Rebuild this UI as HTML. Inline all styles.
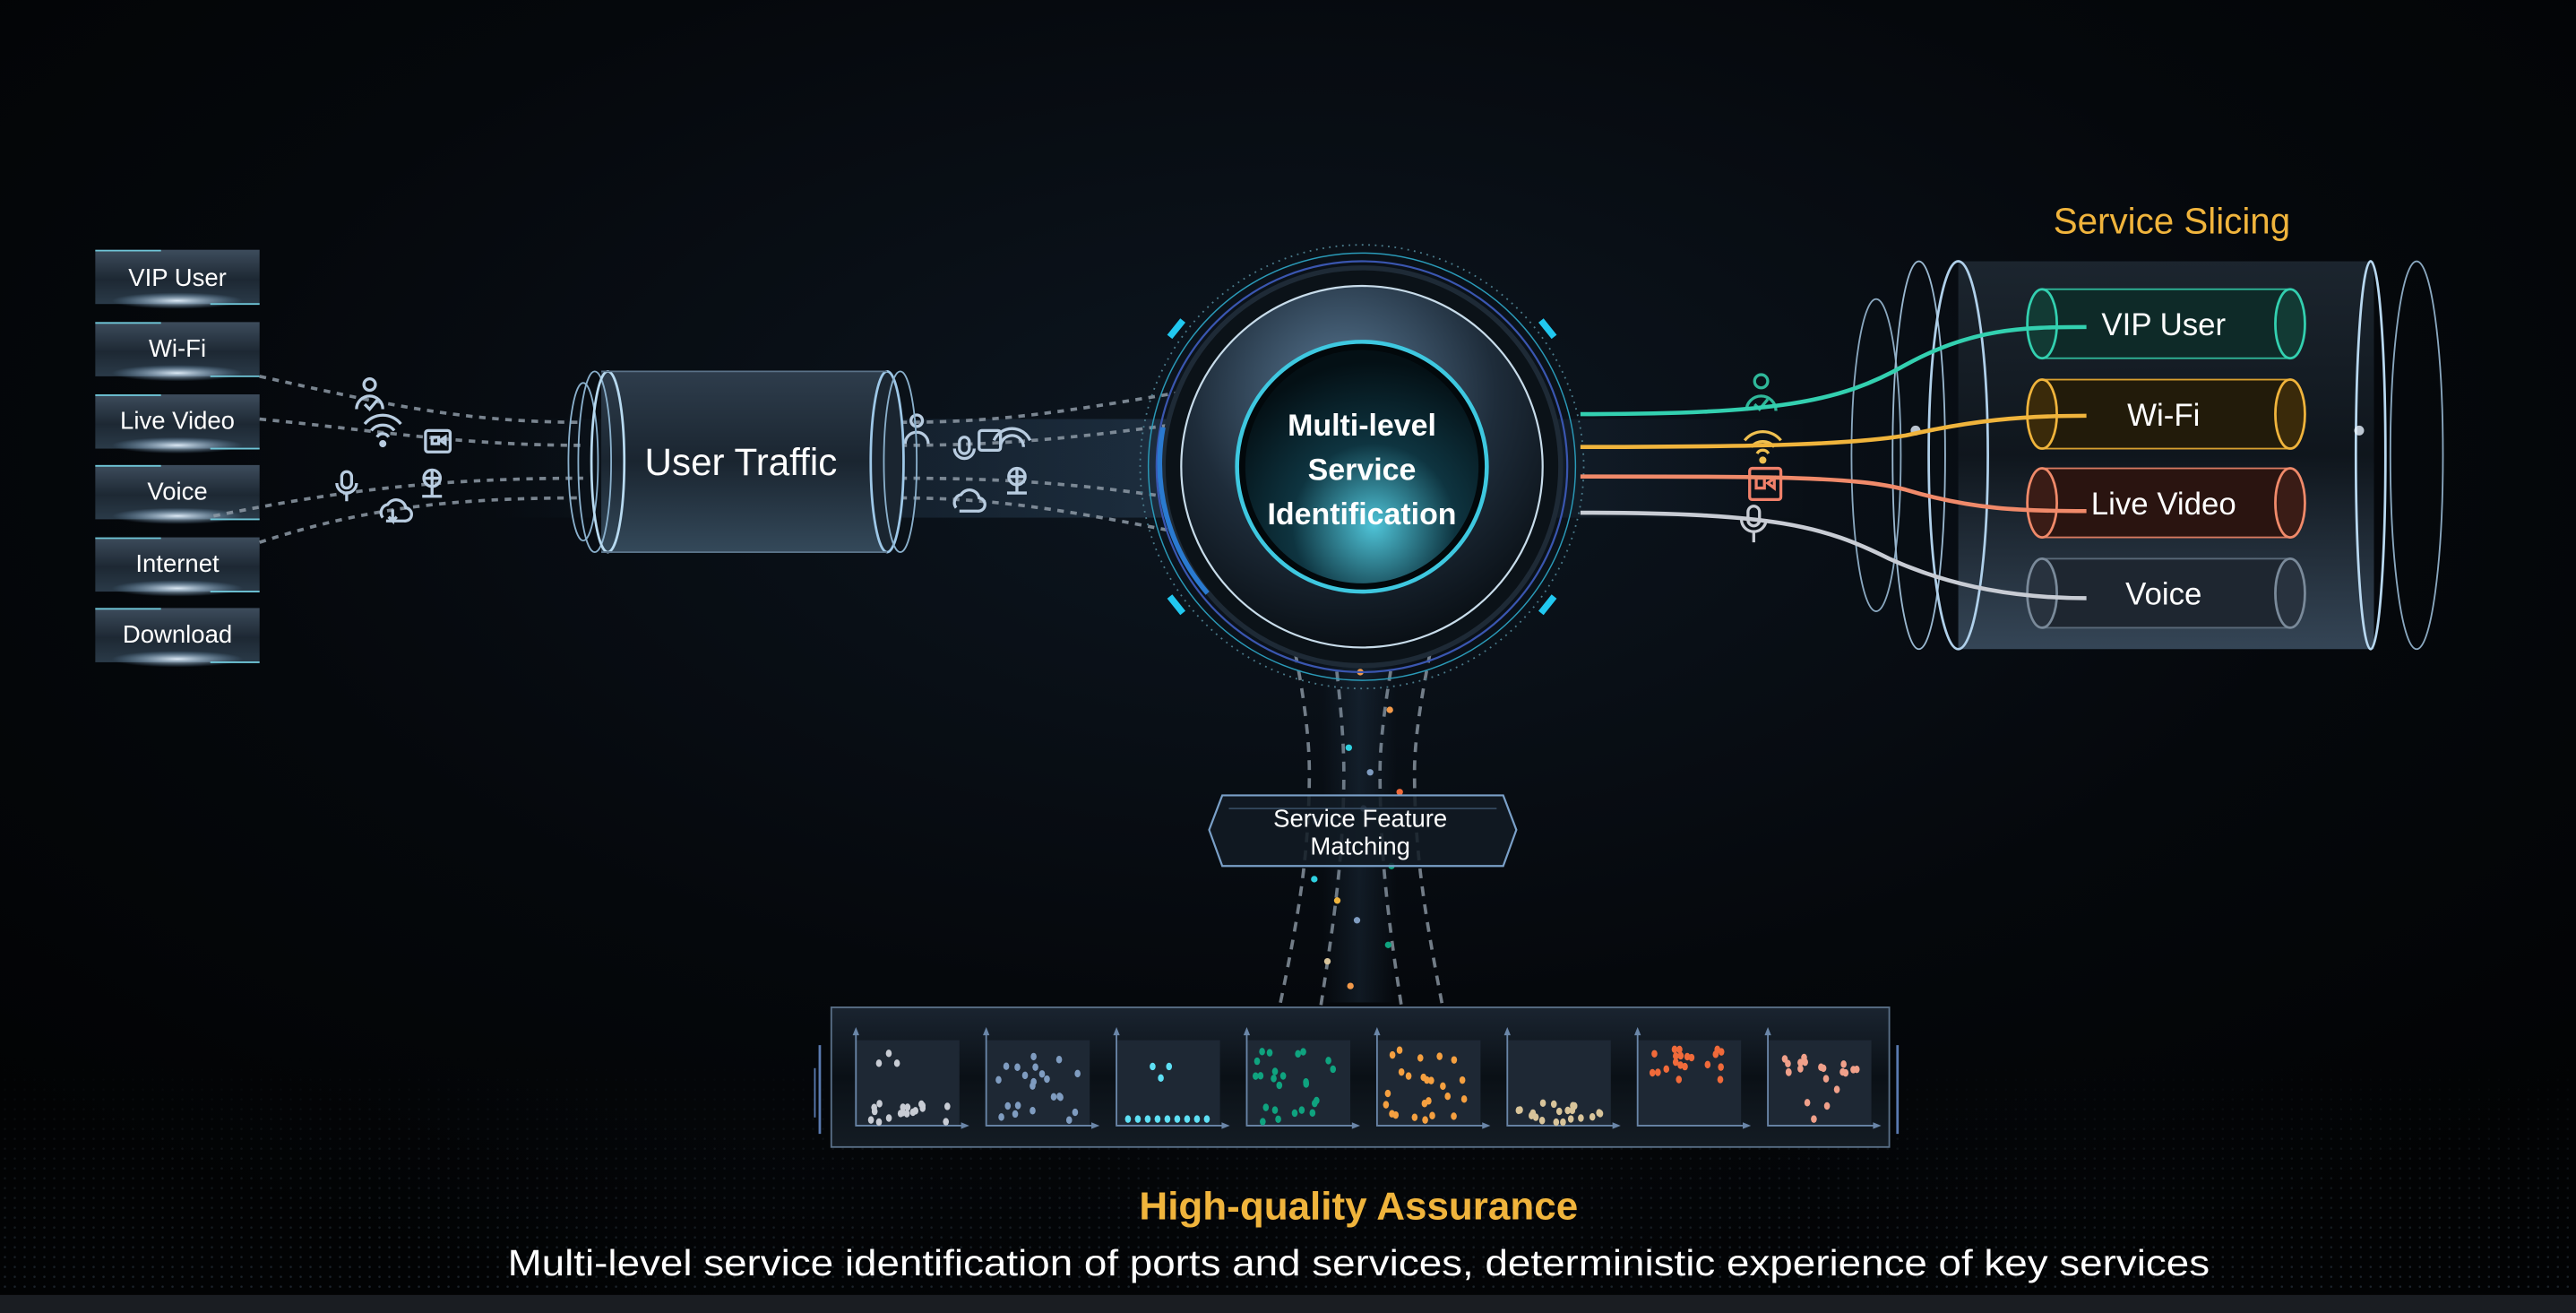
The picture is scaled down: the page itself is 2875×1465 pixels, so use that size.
<!DOCTYPE html>
<html><head><meta charset="utf-8"><style>
html,body{margin:0;padding:0;background:#020305;}
svg{display:block;}
text{font-family:"Liberation Sans",sans-serif;}
</style></head><body>
<svg width="2875" height="1465" viewBox="0 0 1568 799" preserveAspectRatio="none" xmlns="http://www.w3.org/2000/svg">
<defs>
<radialGradient id="bg" cx="0.5" cy="0.35" r="0.7"><stop offset="0" stop-color="#0d1620"/><stop offset="0.6" stop-color="#05080c"/><stop offset="1" stop-color="#020304"/></radialGradient>
<linearGradient id="box" x1="0" y1="0" x2="0" y2="1"><stop offset="0" stop-color="#3d4c5c"/><stop offset="0.55" stop-color="#1d2833"/><stop offset="1" stop-color="#2a3a48"/></linearGradient>
<radialGradient id="glow" cx="0.5" cy="0.5" r="0.5"><stop offset="0" stop-color="#e8f4ff" stop-opacity="0.95"/><stop offset="1" stop-color="#7fb0d8" stop-opacity="0"/></radialGradient>
<linearGradient id="cyl" x1="0" y1="0" x2="0" y2="1"><stop offset="0" stop-color="#2e3d4c"/><stop offset="0.5" stop-color="#1a2530"/><stop offset="1" stop-color="#34495a"/></linearGradient>
<linearGradient id="bigcyl" x1="0" y1="0" x2="0" y2="1"><stop offset="0" stop-color="#1e2832"/><stop offset="0.5" stop-color="#10171e"/><stop offset="1" stop-color="#3a4c5e"/></linearGradient>
<radialGradient id="disk" cx="0.45" cy="0.3" r="0.7"><stop offset="0" stop-color="#5a7a96"/><stop offset="0.6" stop-color="#1e2c3a"/><stop offset="1" stop-color="#0a1016"/></radialGradient>
<radialGradient id="inner" cx="0.55" cy="0.75" r="0.7"><stop offset="0" stop-color="#4fc4d8"/><stop offset="0.5" stop-color="#0e3440"/><stop offset="1" stop-color="#041015"/></radialGradient>
<linearGradient id="panel" x1="0" y1="0" x2="0" y2="1"><stop offset="0" stop-color="#1a2430"/><stop offset="0.5" stop-color="#0a1016"/><stop offset="1" stop-color="#141c24"/></linearGradient>
<linearGradient id="beam" x1="0" y1="0" x2="1" y2="0"><stop offset="0" stop-color="#3a5a78" stop-opacity="0"/><stop offset="0.5" stop-color="#3a5a78" stop-opacity="0.35"/><stop offset="1" stop-color="#3a5a78" stop-opacity="0"/></linearGradient>
<pattern id="dots" width="6" height="6" patternUnits="userSpaceOnUse"><circle cx="3" cy="3" r="0.7" fill="#3a4a5a"/></pattern>
<linearGradient id="fadeDots" x1="0" y1="0" x2="0" y2="1"><stop offset="0" stop-color="#fff" stop-opacity="0"/><stop offset="1" stop-color="#fff" stop-opacity="0.5"/></linearGradient>
<mask id="dm"><rect x="0" y="640" width="1568" height="160" fill="url(#fadeDots)"/></mask>
</defs>
<rect width="1568" height="799" fill="url(#bg)"/>
<rect x="0" y="640" width="1568" height="160" fill="url(#dots)" mask="url(#dm)"/>
<rect x="0" y="788" width="1568" height="11" fill="#1a1d22"/>

<rect x="300" y="255" width="800" height="60" fill="url(#beam)"/>

<g>
<g transform="translate(58,152)"><rect width="100" height="33" fill="url(#box)"/><ellipse cx="50" cy="31" rx="40" ry="5" fill="url(#glow)"/><line x1="0" y1="0.5" x2="40" y2="0.5" stroke="#6fc6d8"/><line x1="70" y1="33" x2="100" y2="33" stroke="#6fc6d8"/><text x="50" y="22" font-size="15" fill="#fff" text-anchor="middle">VIP User</text></g>
<g transform="translate(58,196)"><rect width="100" height="33" fill="url(#box)"/><ellipse cx="50" cy="31" rx="40" ry="5" fill="url(#glow)"/><line x1="0" y1="0.5" x2="40" y2="0.5" stroke="#6fc6d8"/><line x1="70" y1="33" x2="100" y2="33" stroke="#6fc6d8"/><text x="50" y="21" font-size="15" fill="#fff" text-anchor="middle">Wi-Fi</text></g>
<g transform="translate(58,240)"><rect width="100" height="33" fill="url(#box)"/><ellipse cx="50" cy="31" rx="40" ry="5" fill="url(#glow)"/><line x1="0" y1="0.5" x2="40" y2="0.5" stroke="#6fc6d8"/><line x1="70" y1="33" x2="100" y2="33" stroke="#6fc6d8"/><text x="50" y="21" font-size="15" fill="#fff" text-anchor="middle">Live Video</text></g>
<g transform="translate(58,283)"><rect width="100" height="33" fill="url(#box)"/><ellipse cx="50" cy="31" rx="40" ry="5" fill="url(#glow)"/><line x1="0" y1="0.5" x2="40" y2="0.5" stroke="#6fc6d8"/><line x1="70" y1="33" x2="100" y2="33" stroke="#6fc6d8"/><text x="50" y="21" font-size="15" fill="#fff" text-anchor="middle">Voice</text></g>
<g transform="translate(58,327)"><rect width="100" height="33" fill="url(#box)"/><ellipse cx="50" cy="31" rx="40" ry="5" fill="url(#glow)"/><line x1="0" y1="0.5" x2="40" y2="0.5" stroke="#6fc6d8"/><line x1="70" y1="33" x2="100" y2="33" stroke="#6fc6d8"/><text x="50" y="21" font-size="15" fill="#fff" text-anchor="middle">Internet</text></g>
<g transform="translate(58,370)"><rect width="100" height="33" fill="url(#box)"/><ellipse cx="50" cy="31" rx="40" ry="5" fill="url(#glow)"/><line x1="0" y1="0.5" x2="40" y2="0.5" stroke="#6fc6d8"/><line x1="70" y1="33" x2="100" y2="33" stroke="#6fc6d8"/><text x="50" y="21" font-size="15" fill="#fff" text-anchor="middle">Download</text></g>
</g>

<g fill="none" stroke="#8e9aa6" stroke-width="2" stroke-dasharray="4 4" opacity="0.85">
<path d="M158,229 C230,245 280,257 355,257"/>
<path d="M158,255 C230,262 280,271 355,271"/>
<path d="M130,314 C200,300 260,291 355,291"/>
<path d="M158,330 C220,310 270,303 355,303"/>
<path d="M548,257 C620,257 660,248 760,232"/>
<path d="M548,271 C620,271 670,265 760,252"/>
<path d="M548,291 C620,291 670,295 760,310"/>
<path d="M548,303 C620,303 670,315 760,332"/>
</g>

<g fill="none" stroke="#b8cce0" stroke-width="1.8">
<circle cx="225" cy="234" r="3.5"/><path d="M217,249 a8,8 0 0 1 16,0"/><path d="M222,246 l3,3 l5,-6"/>
<path d="M222,258 a14,14 0 0 1 22,0 M226,262 a9,9 0 0 1 14,0 M229.5,266 a4,4 0 0 1 7,0"/><circle cx="233" cy="270" r="1.3" fill="#b8cce0"/>
<rect x="259" y="262" width="15" height="13" rx="1.5"/><path d="M263,266 h4 v4 h-4z M268,268 l3,-2 v4z"/>
<rect x="208" y="287" width="6" height="10" rx="3"/><path d="M205,294 a6,6 0 0 0 12,0 M211,300 v5"/>
<circle cx="263" cy="291" r="5"/><path d="M258,291 h10 M263,286 v10 M263,296 v6 M257,302 h12"/>
<path d="M233,315 a5,5 0 0 1 3,-8 a6,6 0 0 1 11,2 a4,4 0 0 1 -1,8 h-11 M239,310 v7 l-2.5,-2.5 M239,317 l2.5,-2.5"/>
<circle cx="558" cy="256" r="3.5"/><path d="M551,270 a7,7 0 0 1 14,0"/>
<rect x="584" y="266" width="6" height="10" rx="3"/><path d="M581,273 a6,6 0 0 0 12,0"/>
<rect x="596" y="262" width="13" height="12" rx="1.5"/><path d="M605,268 a12,12 0 0 1 22,0 M609,272 a7,7 0 0 1 14,0"/>
<circle cx="619" cy="290" r="5"/><path d="M614,290 h10 M619,285 v10 M619,295 v5 M613,300 h12"/>
<path d="M582,309 a5,5 0 0 1 3,-8 a6,6 0 0 1 11,2 a4,4 0 0 1 -1,8 h-11"/>
</g>

<g>
<rect x="366" y="226" width="174" height="110" fill="url(#cyl)"/>
<ellipse cx="540" cy="281" rx="10" ry="55" fill="#1a2530" stroke="#9ec8e8" stroke-width="1.5"/>
<ellipse cx="548" cy="281" rx="10" ry="55" fill="none" stroke="#8ab0cc" stroke-width="1"/>
<ellipse cx="355" cy="281" rx="9" ry="48" fill="none" stroke="#8ab0cc" stroke-width="1"/>
<ellipse cx="362" cy="281" rx="10" ry="55" fill="none" stroke="#8ab0cc" stroke-width="1"/>
<ellipse cx="370" cy="281" rx="10" ry="55" fill="none" stroke="#b8daf0" stroke-width="1.5"/>
<line x1="366" y1="226" x2="540" y2="226" stroke="#5a7288" stroke-width="1"/>
<line x1="366" y1="336" x2="540" y2="336" stroke="#5a7288" stroke-width="1"/>
<text x="451" y="289" font-size="23" fill="#fff" text-anchor="middle">User Traffic</text>
</g>

<g fill="none" stroke="#8e9aa6" stroke-width="2" stroke-dasharray="6 5" opacity="0.8">
<path d="M781,365 C790,400 797,440 797,470 C797,520 790,560 779,612"/>
<path d="M808,365 C813,400 818,440 818,470 C818,520 812,560 804,612"/>
<path d="M854,365 C848,400 840,440 840,470 C840,520 845,560 853,612"/>
<path d="M877,365 C870,400 861,440 861,470 C861,520 868,560 878,612"/>
</g>
<rect x="805" y="400" width="45" height="210" fill="url(#beam)" opacity="0.6"/>
<g>
<circle cx="828" cy="409" r="2" fill="#f39a4a"/><circle cx="846" cy="432" r="2" fill="#f39a4a"/>
<circle cx="821" cy="455" r="2" fill="#2fd0e0"/><circle cx="834" cy="470" r="2" fill="#7f9cc0"/>
<circle cx="852" cy="482" r="2" fill="#f06a3a"/><circle cx="801" cy="500" r="2" fill="#7f9cc0"/>
<circle cx="830" cy="492" r="2" fill="#7f9cc0"/><circle cx="847" cy="527" r="2" fill="#0fa37f"/>
<circle cx="814" cy="548" r="2" fill="#f0b43c"/><circle cx="826" cy="560" r="2" fill="#7f9cc0"/>
<circle cx="845" cy="575" r="2" fill="#0fa37f"/><circle cx="808" cy="585" r="2" fill="#d8c49a"/>
<circle cx="822" cy="600" r="2" fill="#f39a4a"/><circle cx="800" cy="535" r="2" fill="#2fd0e0"/>
</g>

<g>
<circle cx="829" cy="284" r="135" fill="none" stroke="#4a7a8a" stroke-width="1" stroke-dasharray="1 3"/>
<circle cx="829" cy="284" r="130" fill="none" stroke="#2a9ab8" stroke-width="0.8"/>
<circle cx="829" cy="284" r="125" fill="none" stroke="#3a56b0" stroke-width="1.2"/>
<circle cx="829" cy="284" r="121" fill="#0b1218" stroke="#1e2a36" stroke-width="3"/>
<circle cx="829" cy="284" r="110" fill="url(#disk)" stroke="#c8dcea" stroke-width="1.2"/>
<circle cx="829" cy="284" r="76" fill="#02080b" stroke="#3ec8e0" stroke-width="2.5"/>
<circle cx="829" cy="284" r="71" fill="url(#inner)"/>
<g stroke="#21c8f0" stroke-width="4" fill="none">
<path d="M720,195 l-8,10"/><path d="M712,363 l8,10"/><path d="M938,195 l8,10"/><path d="M946,363 l-8,10"/>
</g>
<path d="M708,260 A121,121 0 0 0 735,361" stroke="#2a7ad0" stroke-width="3" fill="none"/>
<text x="829" y="265" font-size="18.5" font-weight="bold" fill="#fff" text-anchor="middle">Multi-level</text>
<text x="829" y="292" font-size="18.5" font-weight="bold" fill="#fff" text-anchor="middle">Service</text>
<text x="829" y="319" font-size="18.5" font-weight="bold" fill="#fff" text-anchor="middle">Identification</text>
</g>

<g fill="none" stroke-width="1.8">
<g stroke="#2fb89a"><circle cx="1072" cy="232" r="4"/><path d="M1063,250 a9,9 0 0 1 18,0"/><path d="M1068,246 l3,3 l5,-6"/></g>
<g stroke="#f0c050"><path d="M1062,268 a14,14 0 0 1 22,0 M1066,272 a9,9 0 0 1 14,0 M1069.5,276 a4,4 0 0 1 7,0"/><circle cx="1073" cy="280" r="1.3" fill="#f0c050"/></g>
<g stroke="#f0806a"><rect x="1065" y="285" width="19" height="19" rx="1.5"/><path d="M1069,291 h5 v6 h-5z M1076,294 l4,-3 v6z"/></g>
<g stroke="#c8ccd4"><rect x="1064" y="308" width="7" height="12" rx="3.5"/><path d="M1060,316 a7.5,7.5 0 0 0 15,0 M1067.5,324 v6"/></g>
</g>

<g>
<text x="1322" y="142" font-size="22" fill="#f0b43c" text-anchor="middle">Service Slicing</text>
<rect x="1192" y="159" width="253" height="236" fill="url(#bigcyl)" fill-opacity="0.9"/>
<ellipse cx="1142" cy="277" rx="15" ry="95" fill="none" stroke="#8aa8c0" stroke-width="1"/>
<ellipse cx="1168" cy="277" rx="16" ry="118" fill="none" stroke="#9ab8d0" stroke-width="1"/>
<ellipse cx="1192" cy="277" rx="18" ry="118" fill="none" stroke="#b0d0ea" stroke-width="1.5"/>
<ellipse cx="1443" cy="277" rx="9" ry="118" fill="none" stroke="#b8d8f0" stroke-width="1.5"/>
<ellipse cx="1471" cy="277" rx="16" ry="118" fill="none" stroke="#8aa8c0" stroke-width="1"/>
<circle cx="1166" cy="262" r="3" fill="#e8f4ff" opacity="0.8"/>
<circle cx="1436" cy="262" r="3" fill="#e8f4ff" opacity="0.8"/>
<g>
<rect x="1243" y="176" width="151" height="42" fill="#0e2a28" stroke="#2fb89a" stroke-width="1"/>
<ellipse cx="1243" cy="197" rx="9" ry="21" fill="#123a34" stroke="#33d0b0" stroke-width="1.5"/>
<ellipse cx="1394" cy="197" rx="9" ry="21" fill="#123a34" stroke="#33d0b0" stroke-width="1.5"/>
<rect x="1243" y="231" width="151" height="42" fill="#221b0a" stroke="#d8a030" stroke-width="1"/>
<ellipse cx="1243" cy="252" rx="9" ry="21" fill="#3a2a0a" stroke="#f0b43c" stroke-width="1.5"/>
<ellipse cx="1394" cy="252" rx="9" ry="21" fill="#3a2a0a" stroke="#f0b43c" stroke-width="1.5"/>
<rect x="1243" y="285" width="151" height="42" fill="#2a1410" stroke="#d87a60" stroke-width="1"/>
<ellipse cx="1243" cy="306" rx="9" ry="21" fill="#3a1c16" stroke="#f08a6a" stroke-width="1.5"/>
<ellipse cx="1394" cy="306" rx="9" ry="21" fill="#3a1c16" stroke="#f08a6a" stroke-width="1.5"/>
<rect x="1243" y="340" width="151" height="42" fill="#1e2630" stroke="#5a6a7a" stroke-width="1"/>
<ellipse cx="1243" cy="361" rx="9" ry="21" fill="#28323e" stroke="#7a8a9a" stroke-width="1.5"/>
<ellipse cx="1394" cy="361" rx="9" ry="21" fill="#28323e" stroke="#7a8a9a" stroke-width="1.5"/>
</g>
<g fill="none" stroke-width="2.5">
<path d="M962,252 C1080,252 1120,245 1160,222 C1200,200 1230,199 1270,199" stroke="#33d0b0"/>
<path d="M962,272 C1080,272 1130,270 1160,265 C1200,256 1230,253 1270,253" stroke="#f0b43c"/>
<path d="M962,290 C1080,290 1130,290 1160,298 C1200,310 1230,311 1270,311" stroke="#f08a6a"/>
<path d="M962,312 C1080,312 1110,320 1150,340 C1190,358 1230,364 1270,364" stroke="#c8ccd4"/>
</g>
<text x="1317" y="204" font-size="19" fill="#fff" text-anchor="middle">VIP User</text>
<text x="1317" y="259" font-size="19" fill="#fff" text-anchor="middle">Wi-Fi</text>
<text x="1317" y="313" font-size="19" fill="#fff" text-anchor="middle">Live Video</text>
<text x="1317" y="368" font-size="19" fill="#fff" text-anchor="middle">Voice</text>
</g>

<g>
<path d="M744,484 L915,484 L923,505 L915,527 L744,527 L736,505 Z" fill="#121b24" fill-opacity="0.85" stroke="#7aa0c8" stroke-width="1.2"/>
<path d="M748,492 L911,492" stroke="#3a5068" stroke-width="0.8"/>
<text x="828" y="503" font-size="15" fill="#fff" text-anchor="middle">Service Feature</text>
<text x="828" y="520" font-size="15" fill="#fff" text-anchor="middle">Matching</text>
</g>

<g>
<rect x="506" y="613" width="644" height="85" fill="url(#panel)" stroke="#5a7088" stroke-width="1"/>
<line x1="499" y1="636" x2="499" y2="690" stroke="#5a7ab0" stroke-width="1.5"/>
<line x1="496" y1="650" x2="496" y2="680" stroke="#5a7ab0" stroke-width="1"/>
<line x1="1155" y1="636" x2="1155" y2="690" stroke="#5a7ab0" stroke-width="1.5"/>
<g id="charts"></g>
</g>

<text x="827" y="742" font-size="24" font-weight="bold" fill="#f0b43c" text-anchor="middle">High-quality Assurance</text>
<text x="827" y="776" font-size="22" fill="#fff" text-anchor="middle" textLength="1036" lengthAdjust="spacingAndGlyphs">Multi-level service identification of ports and services, deterministic experience of key services</text>
</svg>
<script>
(function(){
var g=document.getElementById('charts');var ns='http://www.w3.org/2000/svg';
var cols=['#c8ccd4','#7f9cc0','#5ee0f5','#0fa37f','#f5a040','#d8c49a','#f06a3a','#f0a08a'];
var seed=7;function r(){seed=(seed*9301+49297)%233280;return seed/233280;}
function pts(i){var a=[],k;
 if(i==0){a=[[20,8],[14,14],[25,14]];for(k=0;k<18;k++)a.push([5+r()*53,38+r()*12]);}
 else if(i==1){for(k=0;k<22;k++)a.push([5+r()*53,6+r()*44]);}
 else if(i==2){a=[[22,16],[32,16],[27,23]];for(k=0;k<9;k++)a.push([7+k*6,48]);}
 else if(i==3){for(k=0;k<24;k++)a.push([5+r()*53,6+r()*44]);}
 else if(i==4){for(k=0;k<24;k++)a.push([5+r()*53,6+r()*44]);}
 else if(i==5){for(k=0;k<20;k++)a.push([5+r()*53,38+r()*12]);}
 else if(i==6){for(k=0;k<20;k++)a.push([6+r()*50,5+r()*20]);}
 else {for(k=0;k<16;k++)a.push([6+r()*50,8+r()*16]);a.push([42,30],[24,38],[36,40],[28,48]);}
 return a;}
for(var i=0;i<8;i++){var x=521+i*79.3,y=633;
 var bg=document.createElementNS(ns,'rect');bg.setAttribute('x',x);bg.setAttribute('y',y);bg.setAttribute('width',63);bg.setAttribute('height',52);bg.setAttribute('fill','#1e2834');g.appendChild(bg);
 var ax=document.createElementNS(ns,'path');ax.setAttribute('d','M'+x+','+(y-5)+' V'+(y+52)+' H'+(x+66));ax.setAttribute('stroke','#6a86a8');ax.setAttribute('fill','none');ax.setAttribute('stroke-width','1');g.appendChild(ax);
 var ar=document.createElementNS(ns,'path');ar.setAttribute('d','M'+(x-2)+','+(y-3)+' L'+x+','+(y-8)+' L'+(x+2)+','+(y-3)+'Z M'+(x+64)+','+(y+50)+' L'+(x+69)+','+(y+52)+' L'+(x+64)+','+(y+54)+'Z');ar.setAttribute('fill','#6a86a8');g.appendChild(ar);
 pts(i).forEach(function(p){var c=document.createElementNS(ns,'ellipse');c.setAttribute('cx',x+p[0]);c.setAttribute('cy',y+p[1]);c.setAttribute('rx',1.8);c.setAttribute('ry',2.3);c.setAttribute('fill',cols[i]);g.appendChild(c);});
}})();
</script>
</body></html>
